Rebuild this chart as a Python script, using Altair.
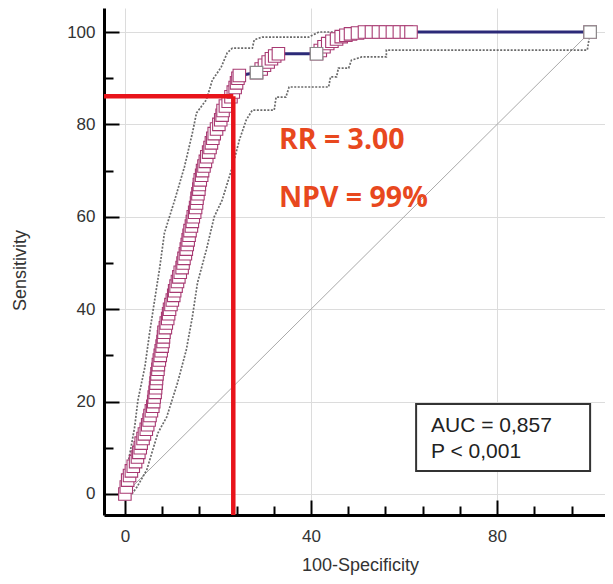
import altair as alt
import pandas as pd

# ---- data ----
roc_x = [0, 0.3, 0.6, 1.0, 1.4, 1.8, 2.3, 2.7, 3.0, 3.3, 3.5, 3.9, 4.2, 4.6, 4.9, 5.2, 5.4, 5.7, 6.0, 6.2,
         6.3, 6.5, 6.6, 6.7, 6.8, 6.9, 7.1, 7.2, 7.4, 7.6, 7.8, 8.0, 8.2, 8.3, 8.4, 8.7, 8.9, 9.2, 9.4, 9.6,
         9.9, 10.2, 10.5, 10.7, 11.0, 11.3, 11.6, 11.9, 12.3, 12.5, 12.7, 13.0, 13.2, 13.4, 13.6, 13.8, 14.0,
         14.3, 14.5, 14.7, 15.0, 15.2, 15.4, 15.5, 15.7, 15.9, 16.0, 16.2, 16.5, 16.7, 17.0, 17.3, 17.6, 18.0,
         18.3, 18.6, 18.9, 19.2, 19.7, 20.2, 20.6, 20.9, 21.1, 21.6, 22.2, 22.8, 23.3, 23.7, 24.0, 24.3, 24.6,
         28.3, 29.3, 30.0, 30.8, 31.5, 32.2, 33.0, 41.2, 42.0, 42.8, 43.6, 44.5, 45.5, 46.5, 47.5, 48.5, 50.0,
         51.5, 53.0, 54.5, 56.0, 57.5, 59.0, 60.5, 61.5, 100]
roc_y = [0, 1.5, 3, 4, 5, 6, 7, 8, 9, 10, 11, 12, 13, 14, 15, 16, 17, 18, 19, 20,
         21, 22, 23, 24, 25, 26, 27, 28, 29, 30, 31, 32, 33, 34, 35, 36, 37, 38, 39, 40,
         41, 42, 43, 44, 45, 46, 47, 48, 49, 50, 51, 52, 53, 54, 55, 56, 57,
         58, 59, 60, 61, 62, 63, 64, 65, 66, 67, 68, 69, 70, 71, 72, 73, 74,
         75, 76, 77, 78, 79, 80, 81, 82, 83, 84, 85, 86, 87, 88, 89, 90, 90.6,
         91.2, 92, 92.8, 93.5, 94.2, 94.8, 95.3, 95.3, 96, 96.8, 97.5, 98, 98.5, 99, 99.3, 99.6, 99.8,
         100, 100, 100, 100, 100, 100, 100, 100, 100]
open_x = [28.3, 41.2, 100]
open_y = [91.2, 95.3, 100]

upper_x = [0, 0, 1.1, 2.1, 2.8, 4.3, 5.3, 6.4, 7.5, 8.5, 10.7, 12.8, 14.5, 15.4, 17.5, 18.8, 20.7, 22.0,
           23.1, 27.4, 27.8, 29.5, 39.5, 41.7, 100]
upper_y = [0, 3, 8.9, 14.5, 20.3, 27.5, 34.8, 42.0, 49.1, 56.5, 63.6, 70.8, 78.1, 82.5, 85.3, 89.6, 92.4, 95.5,
           96.5, 96.5, 98.3, 98.9, 98.9, 100, 100]
lower_x = [0, 1.5, 2.6, 4.7, 5.8, 7.1, 9.0, 11.3, 13.2, 14.5, 15.6, 17.5, 19.2, 20.9, 23.1, 24.6, 26.1, 27.4,
           32.1, 32.5, 34.6, 35.3, 43.8, 44.2, 45.5, 45.9, 48.1, 48.7, 50.9, 56.2, 56.2, 99.4, 100]
lower_y = [0, 0, 1.5, 5.2, 8.9, 13.2, 16.7, 24.0, 31.2, 38.3, 45.7, 52.8, 60.0, 63.6, 70.8, 76.6, 81.0, 83.1,
           83.1, 85.9, 85.9, 88.1, 88.1, 90.3, 90.3, 92.2, 92.2, 93.9, 94.6, 94.6, 96.1, 96.1, 100]

diag_x = [0, 100]
diag_y = [0, 100]

cut_x = 23.3
cut_y = 86.1

major_ticks = [0, 20, 40, 60, 80, 100]
x_minor_ticks = [4, 8, 12, 16, 24, 28, 32, 36, 44, 48, 52, 56, 64, 68, 72, 76, 84, 88, 92, 96]
y_minor_ticks = [5, 10, 15, 25, 30, 35, 45, 50, 55, 65, 70, 75, 85, 90, 95]

annot_text = ["RR = 3.00", "NPV = 99%"]
auc_text = ["AUC = 0,857", "P < 0,001"]

x_title = "100-Specificity"
y_title = "Sensitivity"

# ---- scales / axes ----
W, H = 501, 507
XMIN, XMAX = -4.49, 103.2
YMIN, YMAX = -4.55, 105.2
FONT = "Liberation Sans"

xs = alt.Scale(domain=[XMIN, XMAX], nice=False, zero=False)
ys = alt.Scale(domain=[YMIN, YMAX], nice=False, zero=False)

IS_MAJOR = "datum.value % 20 === 0"
# inward ticks: negative, data-driven tick length (major 15px, minor 9px)
tick_len = alt.ExprRef(expr=f"{IS_MAJOR} ? -15 : -9")
grid_col = alt.ExprRef(expr=f"{IS_MAJOR} ? '#dcdcdc' : 'transparent'")
label_expr = f"{IS_MAJOR} ? datum.label : ''"

x_axis = alt.Axis(values=sorted(major_ticks + x_minor_ticks), grid=True, gridColor=grid_col, gridWidth=1,
                  domainColor="black", domainWidth=3,
                  ticks=True, tickSize=tick_len, tickColor="black", tickWidth=2,
                  labelExpr=label_expr, labelOverlap=False,
                  labelFont=FONT, labelFontSize=17, labelColor="#333333", labelPadding=28,
                  title=x_title, titleFont=FONT, titleFontSize=18, titleFontWeight="normal",
                  titleColor="#333333", titleX=256, titleY=50, titleBaseline="middle")
y_axis = alt.Axis(values=sorted(major_ticks + y_minor_ticks), grid=True, gridColor=grid_col, gridWidth=1,
                  domainColor="black", domainWidth=3,
                  ticks=True, tickSize=tick_len, tickColor="black", tickWidth=2,
                  labelExpr=label_expr, labelOverlap=False,
                  labelFont=FONT, labelFontSize=17, labelColor="#333333", labelPadding=24,
                  title=y_title, titleFont=FONT, titleFontSize=18, titleFontWeight="normal",
                  titleColor="#333333", titleX=-84, titleY=262, titleBaseline="middle")

X = alt.X("x:Q", scale=xs, axis=x_axis)
Y = alt.Y("y:Q", scale=ys, axis=y_axis)

def df(xv, yv):
    return pd.DataFrame({"x": xv, "y": yv, "i": list(range(len(xv)))})

diag = alt.Chart(df(diag_x, diag_y)).mark_line(color="#a9a9a9", strokeWidth=1).encode(
    x=X, y=Y, order="i:Q")

upper = alt.Chart(df(upper_x, upper_y)).mark_line(
    color="#6a6a6a", strokeWidth=1.7, strokeDash=[2, 1.5]).encode(x=X, y=Y, order="i:Q")
lower = alt.Chart(df(lower_x, lower_y)).mark_line(
    color="#6a6a6a", strokeWidth=1.7, strokeDash=[2, 1.5]).encode(x=X, y=Y, order="i:Q")

roc_line = alt.Chart(df(roc_x, roc_y)).mark_line(color="#2c2a78", strokeWidth=3).encode(
    x=X, y=Y, order="i:Q")

roc_pts = alt.Chart(df(roc_x, roc_y)).mark_point(
    shape="square", filled=True, fill="white", stroke="#a83a72", strokeWidth=1.1,
    size=156, opacity=1).encode(x=X, y=Y, order="i:Q")

open_pts = alt.Chart(df(open_x, open_y)).mark_point(
    shape="square", filled=True, fill="white", stroke="#8a8a8a", strokeWidth=1.2,
    size=156, opacity=1).encode(x=X, y=Y)

RED = "#e8141b"
one = pd.DataFrame({"k": [0]})
red_h = alt.Chart(one).mark_rule(color=RED, strokeWidth=4.5).encode(
    x=alt.datum(XMIN), x2=alt.datum(cut_x), y=alt.datum(cut_y))
red_v = alt.Chart(one).mark_rule(color=RED, strokeWidth=4.5).encode(
    x=alt.datum(cut_x), y=alt.datum(cut_y), y2=alt.datum(YMIN))

ORANGE = "#e8481e"
rr = alt.Chart(one).mark_text(text=annot_text[0], font="Open Sans", fontWeight="bold",
                              fontSize=28.5, color=ORANGE, align="left", baseline="alphabetic").encode(
    x=alt.datum(33.1), y=alt.datum(74.7))
npv = alt.Chart(one).mark_text(text=annot_text[1], font="Open Sans", fontWeight="bold",
                               fontSize=28.5, color=ORANGE, align="left", baseline="alphabetic").encode(
    x=alt.datum(33.1), y=alt.datum(62.1))

box = alt.Chart(one).mark_rect(fill="white", stroke="#333333", strokeWidth=2).encode(
    x=alt.datum(62.6), x2=alt.datum(100), y=alt.datum(19.5), y2=alt.datum(5.0))
auc1 = alt.Chart(one).mark_text(text=auc_text[0], font=FONT, fontSize=21, color="#222222",
                                align="left", baseline="alphabetic").encode(
    x=alt.datum(65.8), y=alt.datum(13.4))
auc2 = alt.Chart(one).mark_text(text=auc_text[1], font=FONT, fontSize=21, color="#222222",
                                align="left", baseline="alphabetic").encode(
    x=alt.datum(65.8), y=alt.datum(7.8))

chart = alt.layer(
    diag, upper, lower, roc_line, roc_pts, open_pts,
    red_h, red_v, rr, npv, box, auc1, auc2
).properties(
    width=W, height=H,
    padding={"left": 96, "top": 0, "right": 0, "bottom": 61},
    autosize=alt.AutoSizeParams(type="none"),
    background="white",
).configure_view(strokeWidth=0)

chart.save("out.html", embed_options={"renderer": "svg", "actions": False})
